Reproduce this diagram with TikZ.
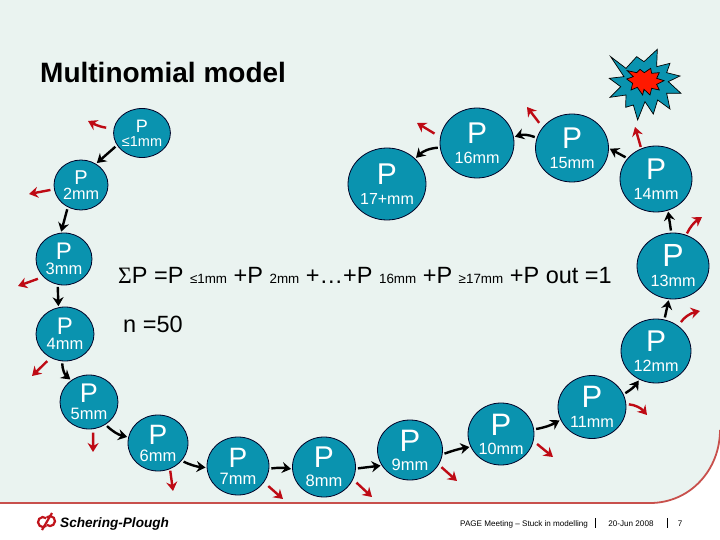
\documentclass[tikz,border=0pt]{standalone}
\usepackage{fontspec}
\setmainfont{Liberation Sans}
\newfontfamily\greekfont{Liberation Serif}
\usetikzlibrary{shapes.geometric,arrows.meta}
\definecolor{slidemint}{HTML}{EAF3F0}
\definecolor{statefill}{HTML}{0A93AF}
\definecolor{leakred}{HTML}{BE0A14}
\definecolor{framered}{HTML}{C8504C}
\newcommand{\subtxt}[1]{{\fontsize{13.4}{14}\selectfont #1}}
\tikzset{
    pstate/.style={ellipse, draw=black!85!blue, fill=statefill, text=white, line width=0.8pt, inner sep=0pt, outer sep=0pt, align=center},
    flow/.style={line width=2.4pt, black, -{Stealth[length=9pt,width=11pt,inset=3pt]}, shorten <=2.5pt, shorten >=1.5pt},
    leak/.style={line width=2.4pt, leakred, -{Stealth[length=9pt,width=11pt,inset=3pt]}},
    sumtext/.style={anchor=base west, inner sep=0pt, font=\fontsize{23.5}{24}\selectfont},
    foot/.style={inner sep=0pt, font=\fontsize{8.1}{9}\selectfont}
}
\begin{document}
\begin{tikzpicture}[x=1pt, y=-1pt]
    \useasboundingbox (0,0) rectangle (720,540);

    % Slide background
    \fill[white] (0,0) rectangle (720,540);
    \fill[slidemint] (0,0) -- (720,0) -- (720,430) .. controls (720,470) and (690,503) .. (650,503) -- (0,503) -- cycle;
    \draw[framered, line width=1.8pt] (0,503) -- (650,503) .. controls (690,503) and (720,470) .. (720,430);

    % Title
    \node[anchor=base west, inner sep=0pt, font=\fontsize{28}{28}\selectfont\bfseries] (title) at (40,83) {Multinomial model};

    % Burst
    \begin{scope}[shift={(500,30)}, x=0.3333pt, y=-0.3333pt]
        \draw[fill=statefill, line width=0.7pt] (332,80) -- (378,115) -- (410,80) -- (432,95) -- (472,58) -- (470,110) -- (510,100) -- (500,128) -- (540,138) -- (505,155) -- (543,190) -- (500,190) -- (510,237) -- (473,210) -- (460,252) -- (435,215) -- (413,270) -- (400,225) -- (377,232) -- (378,195) -- (330,202) -- (362,170) -- (328,145) -- (372,140) -- cycle;
        \draw[fill=red!80!orange, line width=0.7pt] (382,122) -- (410,128) -- (420,118) -- (433,128) -- (452,115) -- (455,130) -- (478,128) -- (470,145) -- (492,152) -- (470,163) -- (478,180) -- (455,175) -- (450,195) -- (432,178) -- (428,195) -- (412,172) -- (393,180) -- (398,160) -- (380,147) -- (400,140) -- cycle;
    \end{scope}

    % States
    \foreach \i/\x/\y/\rx/\ry/\ps/\gap/\ls/\lab in {
        1/142/133/26/24.5/18/14/14.5/≤1mm, 2/81/185/27/25/20/14.5/16.2/2mm,
        3/64/259/28/26/24/15/16.5/3mm, 4/65/334/29/27/24/15/16.5/4mm,
        5/89/402/29/27/27/17/16.5/5mm, 6/158/443/30/28/28/17/16.5/6mm,
        7/238/466/31/29/28/17/16.5/7mm, 8/324/467/31.5/30/30/19/16.5/8mm,
        9/410/450/32.5/30/31/19/16.5/9mm, 10/501/434/33/31/31/19/16.2/10mm,
        11/592/407/34/31.5/31/20/16.2/11mm, 12/656/351/35/32/30/20/16.2/12mm,
        13/673/266/36/33/32/20/16.2/13mm, 14/656/179/36/33/30/20/16.2/14mm,
        15/572/148/36.5/34/30/20/16.2/15mm, 16/477/143/37/35/30/20/16.2/16mm,
        17/387/184/39/36/30/20/16/17+mm}
        \node[pstate, minimum width=2*\rx pt, minimum height=2*\ry pt, font=\fontsize{\ls}{\gap}\selectfont] (p\i) at (\x,\y)
            {{\fontsize{\ps}{\ps}\selectfont P}\\\lab};

    % Transitions between states
    \foreach \a/\b/\s/\e/\c in {
        1/2/206/55/0, 2/3/239/97/0, 3/4/256/104/0, 4/5/264/129/-25,
        5/6/306/169/-15, 6/7/323/183/-10, 7/8/355/184/8, 8/9/357/209/0,
        9/10/352/203/5, 10/11/8/202/-10, 11/12/22/240/-12, 12/13/75/263/0,
        13/14/93/291/0, 14/15/144/0/0, 15/16/164/9/-20, 16/17/187/42/-20}
        \draw[flow] (p\a.\s) to[bend left=\c] (p\b.\e);

    % Ends of the dropout arrows
    \foreach \i/\x/\y in {
        1/88/121, 2/29/194, 3/18/286, 4/32/376, 5/93/452, 6/173/491, 7/283/499, 8/372/497,
        9/457/481, 10/553/457, 11/647/415, 12/700/311, 13/702/217, 14/635/127, 15/527/107, 16/417/123}
        \coordinate (q\i) at (\x,\y);

    % Dropout arrows
    \foreach \i/\s/\g/\c in {
        1/170/8/12, 2/189/4/0, 3/221/6/0, 4/239/5/0, 5/279/4/0, 6/295/2/0, 7/328/6/0, 8/337/5/0,
        9/333/4/0, 10/348/5/0, 11/5/3/22, 12/48/5/22, 13/67/2/15, 14/116/2/0, 15/145/6/0, 16/171/7/0}
        \draw[leak, shorten <=\g pt] (p\i.\s) to[bend left=\c] (q\i);

    % Sum and sample size
    \node[sumtext] (total) at (118,283) {{\greekfont Σ}P =P \subtxt{≤1mm} +P \subtxt{2mm} +…+P \subtxt{16mm} +P \subtxt{≥17mm} +P out =1};
    \node[sumtext] (size) at (123,332) {n =50};

    % Logo
    \draw[leakred!85!framered, line width=2.2pt] (46.2,518.2) arc (310:50:5) (46.8,517.2) arc (230:490:5);
    \draw[leakred!85!framered, line width=2.2pt] (42,530) -- (52,513);
    \node[anchor=base west, inner sep=0pt, font=\fontsize{13.6}{15}\selectfont\itshape\bfseries] (logo) at (60,527) {Schering-Plough};

    % Footer
    \node[foot, anchor=base west] (meeting) at (460,526) {PAGE Meeting – Stuck in modelling};
    \node[foot, anchor=base] (date) at (631,526) {20-Jun 2008};
    \node[foot, anchor=base] (page) at (680,526) {7};
    \draw[black, line width=0.8pt] (595,518) -- (595,528) (667,518) -- (667,528);
\end{tikzpicture}
\end{document}
